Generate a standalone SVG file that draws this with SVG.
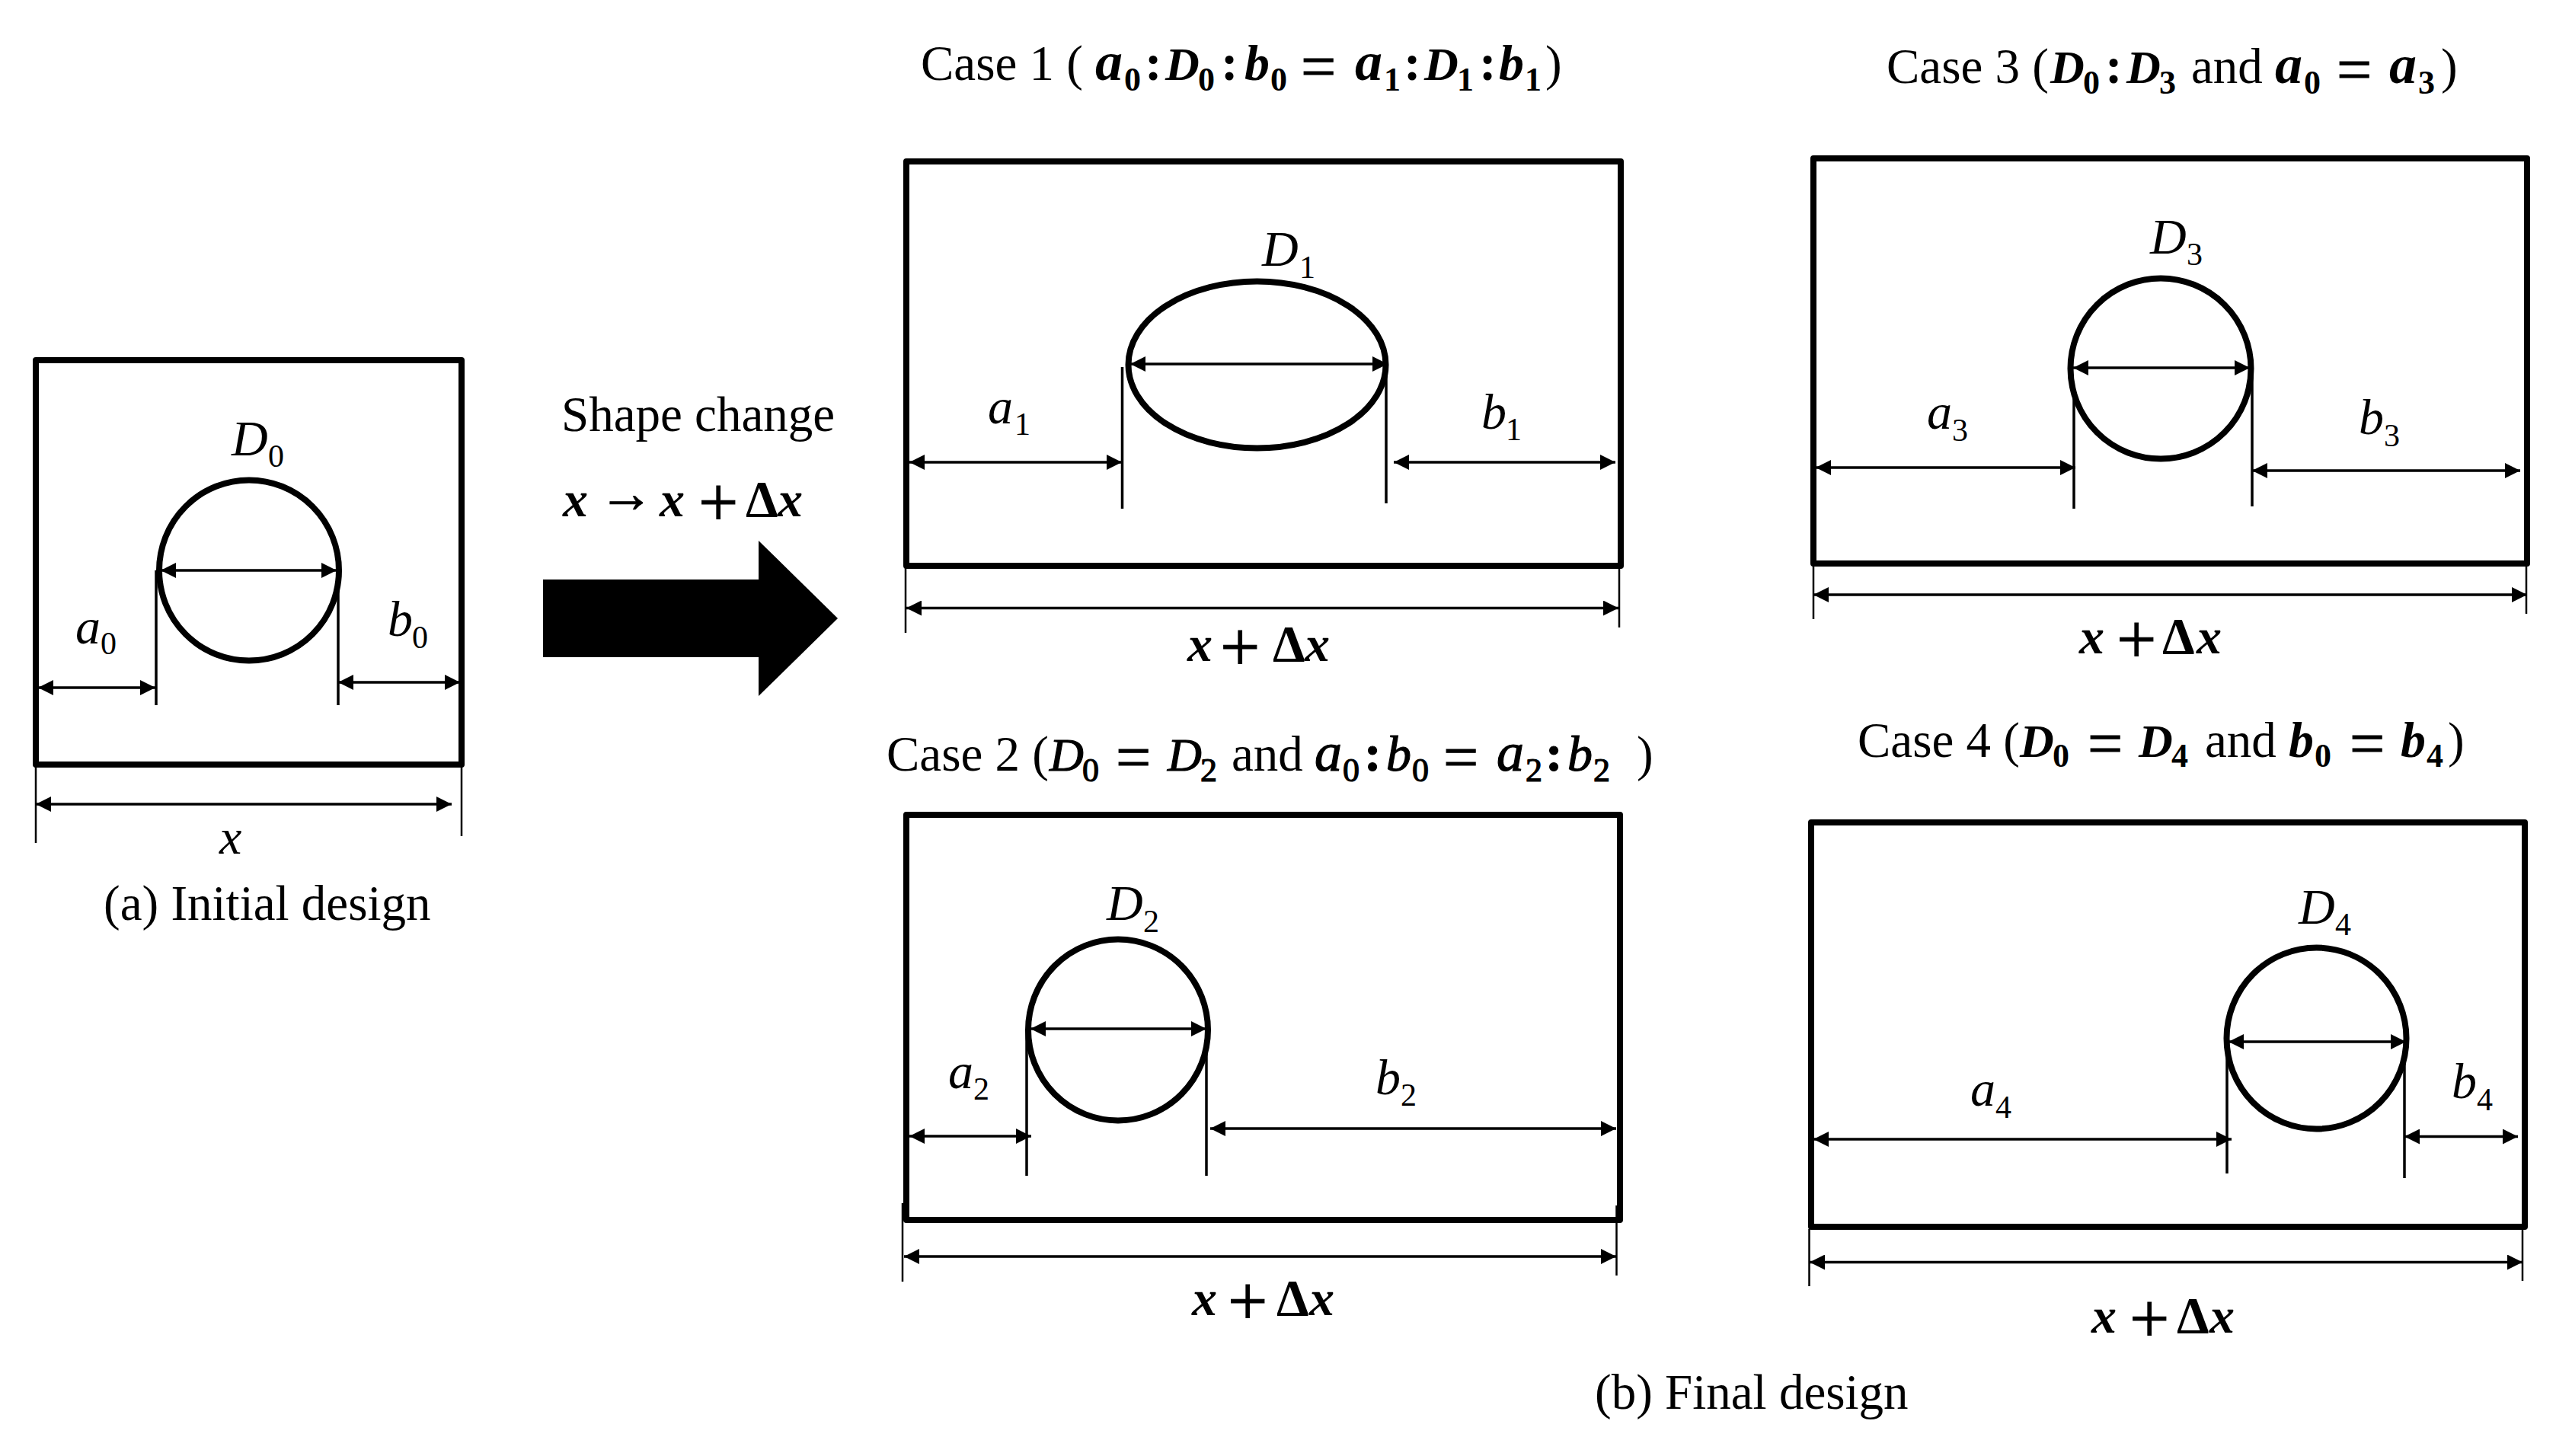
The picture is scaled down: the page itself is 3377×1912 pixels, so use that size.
<svg xmlns="http://www.w3.org/2000/svg" width="3377" height="1912" viewBox="0 0 3377 1912">
<style>
text{font-family:"Liberation Serif","Times New Roman",serif;fill:#000}
.t{font-size:65px;font-style:normal;font-weight:normal}
.i{font-size:66px;font-style:italic}
.s{font-size:42px;font-style:normal}
.m{font-size:66px;font-style:italic;font-weight:bold}
.m2{font-size:66px;font-style:italic;font-weight:normal;stroke:#000;stroke-width:1.200}
.ma{font-size:72px}
.md{font-size:62px}
.ms{font-size:44px;font-weight:bold;font-style:normal}
.ms2{font-size:44px;font-weight:normal;font-style:normal}
.o{font-size:82px;font-style:normal;font-weight:normal;stroke:#000;stroke-width:1}
.p{font-size:93px;font-style:normal;font-weight:normal;stroke:#000;stroke-width:1}
.c{font-size:68px;font-weight:bold;font-style:normal}
.box{fill:none;stroke:#000;stroke-width:8;stroke-linejoin:round}
.hole{fill:none;stroke:#000;stroke-width:8}
.d{fill:none;stroke:#000;stroke-width:3.500;marker-start:url(#ah);marker-end:url(#ah)}
.e{fill:none;stroke:#000;stroke-width:3.500}
.f{fill:none;stroke:#000;stroke-width:2.500}
</style>
<defs>
<marker id="ah" markerUnits="userSpaceOnUse" markerWidth="20" markerHeight="20" refX="20" refY="10" orient="auto-start-reverse"><path d="M0,0L20,10L0,20Z" fill="#000"/></marker>
</defs>
<rect width="3377" height="1912" fill="#fff"/>
<g id="panel-a">
<rect class="box" x="47" y="473" width="559" height="531"/>
<ellipse class="hole" cx="327" cy="749" rx="118" ry="118.500"/>
<text class="i" x="304" y="598">D<tspan class="s" x="352" y="613">0</tspan></text>
<text class="i" x="99" y="845">a<tspan class="s" x="132" y="859">0</tspan></text>
<text class="i" x="509" y="835">b<tspan class="s" x="541" y="851">0</tspan></text>
<text class="i" x="288" y="1121">x</text>
<text class="t" x="136" y="1208">(a) Initial design</text>
</g>
<g id="shape-change">
<text class="t" x="737" y="566">Shape change</text>
<text class="m" x="739" y="678">x<tspan class="t" style="font-size:72px;stroke:#000;stroke-width:1" x="786" y="672">→</tspan><tspan x="866" y="678">x</tspan><tspan class="p" x="917" y="691">+</tspan><tspan class="c" x="979" y="678">Δ</tspan><tspan x="1021" y="678">x</tspan></text>
</g>
<g id="panel-case1">
<rect class="box" x="1190" y="212" width="938" height="531"/>
<ellipse class="hole" cx="1650.500" cy="479" rx="169" ry="109.500"/>
<text class="t" x="1209" y="105">Case 1 (</text>
<text class="m" y="105"><tspan class="ma" x="1438">a</tspan><tspan class="ms" x="1476" y="119">0</tspan><tspan class="c" x="1503" y="105">:</tspan><tspan class="md" x="1530" y="105">D</tspan><tspan class="ms" x="1573" y="119">0</tspan><tspan class="c" x="1603" y="105">:</tspan><tspan x="1634" y="105">b</tspan><tspan class="ms" x="1668" y="119">0</tspan><tspan class="o" x="1708" y="115">=</tspan><tspan class="ma" x="1779" y="105">a</tspan><tspan class="ms" x="1817" y="119">1</tspan><tspan class="c" x="1843" y="105">:</tspan><tspan class="md" x="1870" y="105">D</tspan><tspan class="ms" x="1913" y="119">1</tspan><tspan class="c" x="1942" y="105">:</tspan><tspan x="1968" y="105">b</tspan><tspan class="ms" x="2002" y="119">1</tspan><tspan class="t" x="2029" y="105">)</tspan></text>
<text class="i" x="1657" y="349">D<tspan class="s" x="1706" y="365">1</tspan></text>
<text class="i" x="1297" y="556">a<tspan class="s" x="1332" y="571">1</tspan></text>
<text class="i" x="1945" y="563">b<tspan class="s" x="1977" y="578">1</tspan></text>
<text class="m" x="1559" y="868">x<tspan class="p" x="1602" y="881">+</tspan><tspan class="c" x="1671" y="868">Δ</tspan><tspan x="1713" y="868">x</tspan></text>
</g>
<g id="panel-case2">
<rect class="box" x="1190" y="1070" width="937" height="532"/>
<ellipse class="hole" cx="1468" cy="1352.500" rx="118" ry="119"/>
<text class="t" x="1164" y="1012">Case 2 (</text>
<text class="m2" x="1378" y="1012"><tspan class="md">D</tspan><tspan class="ms2" x="1421" y="1026">0</tspan><tspan class="o" x="1465" y="1022">=</tspan><tspan class="md" x="1533" y="1012">D</tspan><tspan class="ms2" x="1576" y="1026">2</tspan><tspan class="t" style="stroke:none" x="1617" y="1012">and</tspan><tspan class="ma" x="1726" y="1012">a</tspan><tspan class="ms2" x="1763" y="1026">0</tspan><tspan class="c" x="1791" y="1012">:</tspan><tspan x="1820" y="1012">b</tspan><tspan class="ms2" x="1854" y="1026">0</tspan><tspan class="o" x="1895" y="1022">=</tspan><tspan class="ma" x="1965" y="1012">a</tspan><tspan class="ms2" x="2003" y="1026">2</tspan><tspan class="c" x="2029" y="1012">:</tspan><tspan x="2058" y="1012">b</tspan><tspan class="ms2" x="2092" y="1026">2</tspan><tspan class="t" style="stroke:none" x="2149" y="1012">)</tspan></text>
<text class="i" x="1453" y="1208">D<tspan class="s" x="1501" y="1224">2</tspan></text>
<text class="i" x="1245" y="1429">a<tspan class="s" x="1278" y="1444">2</tspan></text>
<text class="i" x="1806" y="1437">b<tspan class="s" x="1839" y="1452">2</tspan></text>
<text class="m" x="1565" y="1727">x<tspan class="p" x="1612" y="1740">+</tspan><tspan class="c" x="1676" y="1727">Δ</tspan><tspan x="1719" y="1727">x</tspan></text>
</g>
<g id="panel-case3">
<rect class="box" x="2381" y="208" width="937" height="532"/>
<ellipse class="hole" cx="2837" cy="484" rx="118.500" ry="118.500"/>
<text class="t" x="2477" y="109">Case 3 (</text>
<text class="m" x="2692" y="109"><tspan class="md">D</tspan><tspan class="ms" x="2735" y="123">0</tspan><tspan class="c" x="2764" y="109">:</tspan><tspan class="md" x="2792" y="109">D</tspan><tspan class="ms" x="2835" y="123">3</tspan><tspan class="t" x="2877" y="109">and</tspan><tspan class="ma" x="2987" y="109">a</tspan><tspan class="ms" x="3025" y="123">0</tspan><tspan class="o" x="3068" y="119">=</tspan><tspan class="ma" x="3137" y="109">a</tspan><tspan class="ms" x="3175" y="123">3</tspan><tspan class="t" x="3205" y="109">)</tspan></text>
<text class="i" x="2823" y="333">D<tspan class="s" x="2871" y="348">3</tspan></text>
<text class="i" x="2530" y="563">a<tspan class="s" x="2563" y="579">3</tspan></text>
<text class="i" x="3097" y="570">b<tspan class="s" x="3130" y="586">3</tspan></text>
<text class="m" x="2730" y="858">x<tspan class="p" x="2779" y="871">+</tspan><tspan class="c" x="2839" y="858">Δ</tspan><tspan x="2884" y="858">x</tspan></text>
</g>
<g id="panel-case4">
<rect class="box" x="2378" y="1080" width="937" height="531"/>
<ellipse class="hole" cx="3041.500" cy="1363.500" rx="118" ry="119"/>
<text class="t" x="2439" y="994">Case 4 (</text>
<text class="m" x="2652" y="994"><tspan class="md">D</tspan><tspan class="ms" x="2695" y="1007">0</tspan><tspan class="o" x="2741" y="1004">=</tspan><tspan class="md" x="2808" y="994">D</tspan><tspan class="ms" x="2851" y="1007">4</tspan><tspan class="t" x="2895" y="994">and</tspan><tspan x="3005" y="994">b</tspan><tspan class="ms" x="3039" y="1007">0</tspan><tspan class="o" x="3085" y="1004">=</tspan><tspan x="3152" y="994">b</tspan><tspan class="ms" x="3186" y="1007">4</tspan><tspan class="t" x="3214" y="994">)</tspan></text>
<text class="i" x="3018" y="1213">D<tspan class="s" x="3066" y="1228">4</tspan></text>
<text class="i" x="2587" y="1452">a<tspan class="s" x="2620" y="1468">4</tspan></text>
<text class="i" x="3219" y="1442">b<tspan class="s" x="3252" y="1458">4</tspan></text>
<text class="m" x="2746" y="1750">x<tspan class="p" x="2796" y="1763">+</tspan><tspan class="c" x="2858" y="1750">Δ</tspan><tspan x="2901" y="1750">x</tspan></text>
</g>
<g id="final-design">
<text class="t" x="2094" y="1850">(b) Final design</text>
</g>
<g id="connectors">
<path id="shape-arrow" d="M713,761H996V710L1100,812L996,914V863H713Z" fill="#000"/>
<path class="d" d="M211,749H442"/>
<path class="e" d="M205,749V926M444,760V926"/>
<path class="d" d="M50,903H204"/>
<path class="d" d="M444,896H604"/>
<path class="f" d="M47,1006V1107M606,1006V1098"/>
<path class="d" d="M47,1056H593"/>

<path class="d" d="M1484,478H1822"/>
<path class="e" d="M1473.500,482V668M1820,494V661"/>
<path class="d" d="M1194,607H1473"/>
<path class="d" d="M1830,607H2121"/>
<path class="f" d="M1189,743V831M2126,743V824"/>
<path class="d" d="M1190,798.500H2125"/>

<path class="d" d="M1353,1351H1584"/>
<path class="e" d="M1348,1351V1544M1584,1374V1544"/>
<path class="d" d="M1194,1492H1354"/>
<path class="d" d="M1589,1482H2122"/>
<path class="f" d="M1185,1580V1683M2122.500,1583V1675"/>
<path class="d" d="M1187,1650H2122"/>

<path class="d" d="M2722,483H2954"/>
<path class="e" d="M2723,517V668M2957,488V665"/>
<path class="d" d="M2384,614H2725"/>
<path class="d" d="M2957,618H3309"/>
<path class="f" d="M2381,742V813M3317,742V806"/>
<path class="d" d="M2381,781H3318"/>

<path class="d" d="M2926,1368H3159"/>
<path class="e" d="M2924,1382V1541M3157,1395V1547"/>
<path class="d" d="M2381,1496H2930"/>
<path class="d" d="M3157,1492.500H3306"/>
<path class="f" d="M2375.500,1614V1689M3312,1614V1682"/>
<path class="d" d="M2376,1657.500H3312"/>
</g>
</svg>
